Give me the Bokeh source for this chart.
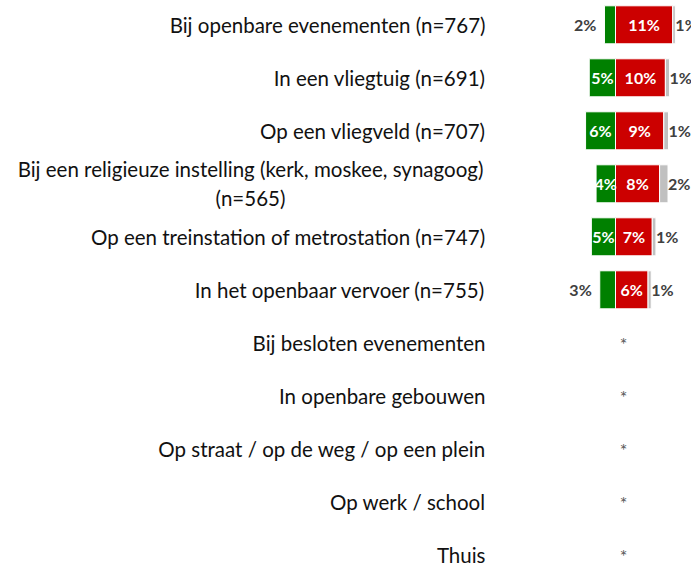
from bokeh.plotting import figure
from bokeh.models import Range1d, ColumnDataSource
from bokeh.core.properties import value
from bokeh.embed import file_html
from bokeh.resources import INLINE

categories = [
    "Bij openbare evenementen (n=767)",
    "In een vliegtuig (n=691)",
    "Op een vliegveld (n=707)",
    "Bij een religieuze instelling (kerk, moskee, synagoog)\n(n=565)",
    "Op een treinstation of metrostation (n=747)",
    "In het openbaar vervoer (n=755)",
    "Bij besloten evenementen",
    "In openbare gebouwen",
    "Op straat / op de weg / op een plein",
    "Op werk / school",
    "Thuis",
]
green_vals = [2.1, 5.0, 5.7, 3.7, 4.6, 3.0]
red_vals = [10.9, 9.5, 9.2, 8.4, 7.0, 6.2]
gray_vals = [0.5, 0.8, 0.9, 1.6, 0.7, 0.6]
green_labels = ["2%", "5%", "6%", "4%", "5%", "3%"]
red_labels = ["11%", "10%", "9%", "8%", "7%", "6%"]
gray_labels = ["1%", "1%", "1%", "2%", "1%", "1%"]
empty_mark = "*"

GREEN = "#008000"
RED = "#CC0000"
GRAY = "#C0C0C0"
FONT = value("Lato")

W, H = 691, 570
px_per_pct = 5.25
zero_px = 615
row_px = 53.0
first_row_px = 24.3

p = figure(width=W, height=H, output_backend="svg", toolbar_location=None,
           min_border=0, outline_line_color=None)
p.x_range = Range1d(-zero_px / px_per_pct, (W - zero_px) / px_per_pct)
top = -first_row_px / row_px
p.y_range = Range1d(top + H / row_px, top)
p.axis.visible = False
p.grid.visible = False
p.background_fill_color = "white"
p.border_fill_color = "white"

n = len(red_vals)
rows = list(range(n))
bar_h = 38 / row_px

src = ColumnDataSource(dict(
    y=rows,
    gleft=[-g for g in green_vals],
    red=red_vals,
    rmid=[r / 2 for r in red_vals],
    gray_end=[r + g for r, g in zip(red_vals, gray_vals)],
    rlab=red_labels, graylab=gray_labels,
))

p.hbar(y="y", left="gleft", right=0, height=bar_h, source=src,
       fill_color=GREEN, line_color="white", line_width=1)
p.hbar(y="y", left=0, right="red", height=bar_h, source=src,
       fill_color=RED, line_color="white", line_width=1)
p.hbar(y="y", left="red", right="gray_end", height=bar_h, source=src,
       fill_color=GRAY, line_color="white", line_width=1)

LBL = dict(text_baseline="middle", text_font=FONT, text_font_style="bold",
           text_font_size="16px")
gin = [i for i in rows if green_vals[i] >= 3.5]
gout = [i for i in rows if green_vals[i] < 3.5]
p.text(x=[-green_vals[i] / 2 for i in gin], y=gin, text=[green_labels[i] for i in gin],
       text_align="center", text_color="white", **LBL)
p.text(x=[-green_vals[i] for i in gout], y=gout, text=[green_labels[i] for i in gout],
       x_offset=-8, text_align="right", text_color="#404040", **LBL)
p.text(x="rmid", y="y", text="rlab", source=src,
       text_align="center", text_color="white", **LBL)
p.text(x="gray_end", y="y", text="graylab", source=src, x_offset=0,
       text_align="left", text_color="#404040", **LBL)

single = [i for i in range(len(categories)) if "\n" not in categories[i]]
multi = [i for i in range(len(categories)) if "\n" in categories[i]]
p.text(x=[0] * len(single), y=single, text=[categories[i] for i in single],
       x_offset=-130, text_align="right", text_baseline="middle", text_color="#111111",
       text_font=FONT, text_font_size="20.5px")
p.text(x=[0] * len(multi), y=multi, text=[categories[i] for i in multi],
       x_offset=-365, text_align="center", text_baseline="middle", text_color="#111111",
       text_font=FONT, text_font_size="20.5px", text_line_height=1.2)

empty_rows = list(range(n, len(categories)))
p.text(x=[0] * len(empty_rows), y=empty_rows, text=[empty_mark] * len(empty_rows),
       x_offset=8, y_offset=1, text_align="center", text_baseline="middle",
       text_color="#595959", text_font=FONT, text_font_size="18px")

open("out.html", "w").write(file_html(p, INLINE))
